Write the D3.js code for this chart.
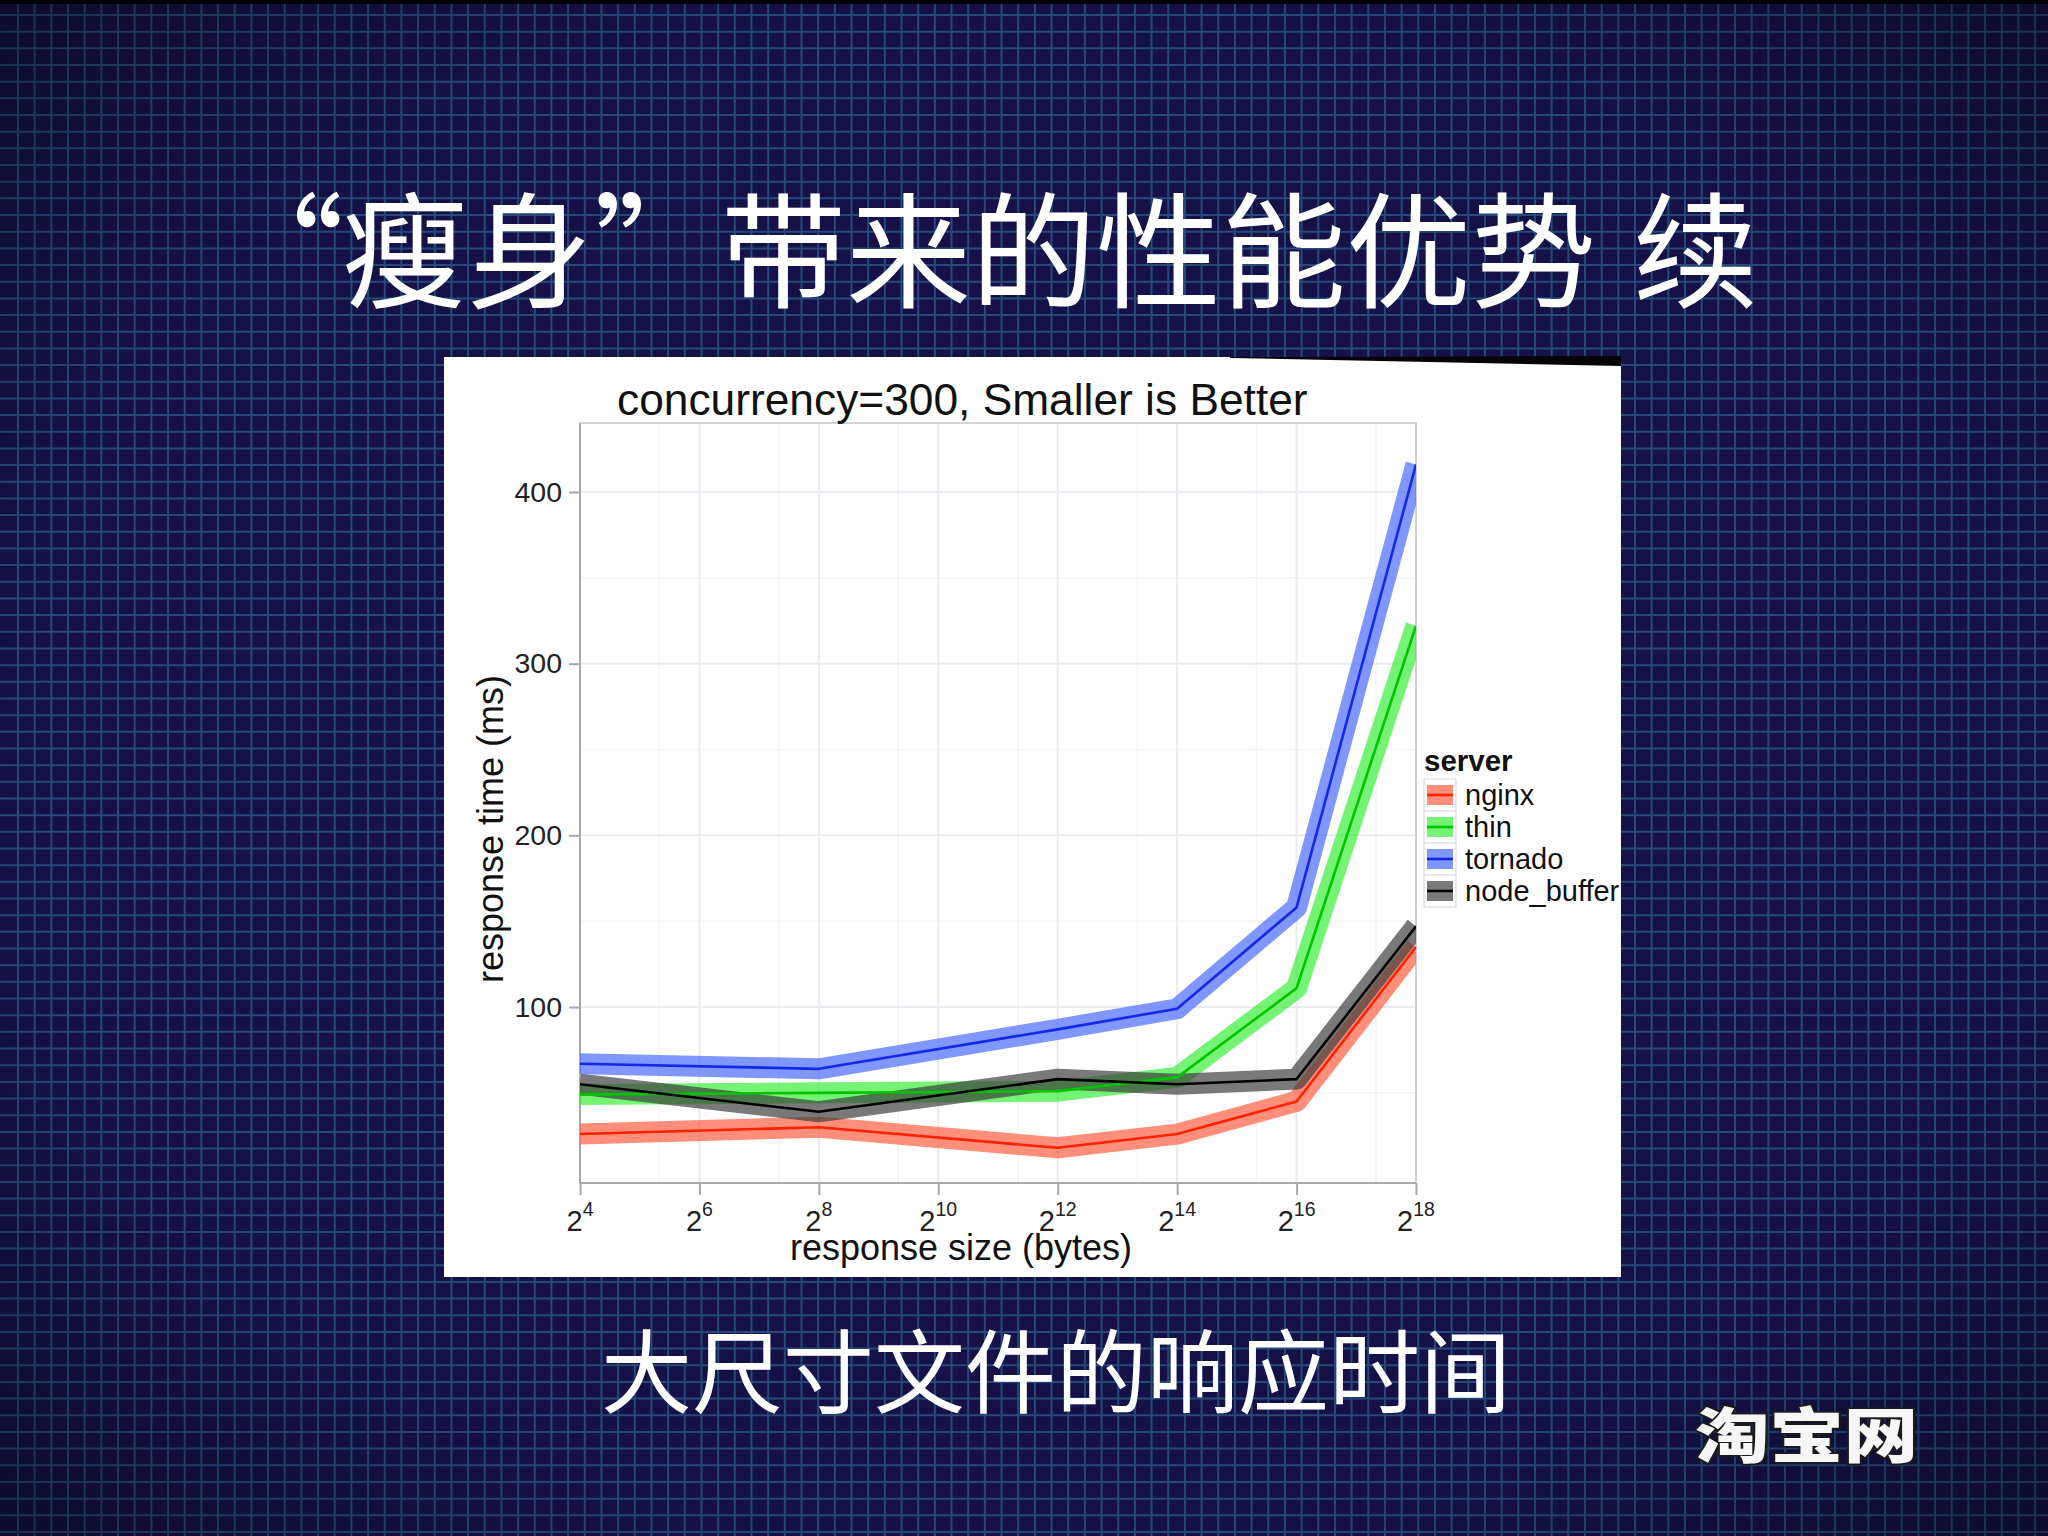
<!DOCTYPE html>
<html><head><meta charset="utf-8">
<script src="https://cdn.jsdelivr.net/npm/d3@7"></script>
<style>html,body{margin:0;padding:0;background:#16124b;overflow:hidden}</style>
</head><body>
<svg id="c" width="2048" height="1536"></svg>
<script>
// ---- data ----
const sizes = [16, 256, 4096, 16384, 65536, 262144];        // response size (bytes)
const servers = ["nginx", "thin", "tornado", "node_buffer"];
const nginx      = [26, 30, 18, 26, 45, 135];
const thin       = [49, 50, 51, 59, 111, 322];
const tornado    = [67, 64, 87, 99, 158, 416];
const nodeBuffer = [55, 39, 58, 55, 58, 147];
const xTickExps  = [4, 6, 8, 10, 12, 14, 16, 18];
const xMinorExps = [5.33, 7.33, 9.33, 11.33, 13.33, 15.33, 17.33];
const yTicks     = [100, 200, 300, 400];
const yMinor     = [50, 150, 250, 350];
const titleParts = ["“", "瘦身", "”", "带来的性能优势", "续"];
const subtitle   = "大尺寸文件的响应时间";
const logoText   = "淘宝网";
const chartTitle = "concurrency=300, Smaller is Better";
const xTitle     = "response size (bytes)";
const yTitle     = "response time (ms)";
const legendTitle = "server";

const seriesValues = [nginx, thin, tornado, nodeBuffer];
const bandColors = ["#ff5a3c", "#33ee33", "#4466ff", "#3a3a3a"];
const lineColors = ["#ff2200", "#00c400", "#1428e6", "#000000"];

const W = 2048, H = 1536;
const svg = d3.select("#c");
const defs = svg.append("defs");

// ---- slide background ----
svg.append("rect").attr("width", W).attr("height", H).attr("fill", "#17124c");
const bg = svg.append("g").attr("stroke", "#2b5a8c").attr("stroke-width", 2).attr("opacity", 0.85);
const step = 16.67;
bg.selectAll("line.v").data(d3.range(18, W, step)).join("line")
  .attr("x1", d => d).attr("x2", d => d).attr("y1", 0).attr("y2", H);
bg.selectAll("line.h").data(d3.range(15, H, step)).join("line")
  .attr("y1", d => d).attr("y2", d => d).attr("x1", 0).attr("x2", W);
const vg = defs.append("radialGradient").attr("id", "vig").attr("cx", "50%").attr("cy", "50%").attr("r", "75%");
vg.append("stop").attr("offset", "0%").attr("stop-color", "#000").attr("stop-opacity", 0);
vg.append("stop").attr("offset", "65%").attr("stop-color", "#000").attr("stop-opacity", 0.08);
vg.append("stop").attr("offset", "100%").attr("stop-color", "#000").attr("stop-opacity", 0.45);
svg.append("rect").attr("width", W).attr("height", H).attr("fill", "url(#vig)");
svg.append("rect").attr("width", W).attr("height", 4).attr("fill", "#000");

// ---- slide titles ----
const cjk = "'Noto Sans CJK SC', 'Noto Sans CJK JP', sans-serif";
const tg = svg.append("g").attr("fill", "#ffffff").attr("font-family", cjk).attr("font-size", 125);
tg.append("text").attr("x", 344).attr("y", 298).attr("text-anchor", "end").text(titleParts[0]);
tg.append("text").attr("x", 342).attr("y", 298).text(titleParts[1]);
tg.append("text").attr("x", 594).attr("y", 298).text(titleParts[2]);
tg.append("text").attr("x", 721).attr("y", 298).text(titleParts[3]);
tg.append("text").attr("x", 1633).attr("y", 298).text(titleParts[4]);

svg.append("text").attr("x", 601).attr("y", 1406).attr("fill", "#fff")
  .attr("font-family", cjk).attr("font-size", 91).text(subtitle);

svg.append("text").attr("transform", "translate(1695,1458) scale(1.24,1)").attr("fill", "#f6f6f6")
  .attr("stroke", "#1a1a1a").attr("stroke-width", 3.5).attr("paint-order", "stroke")
  .attr("font-family", cjk).attr("font-weight", 900).attr("font-size", 60).text(logoText);

// ---- chart card ----
const card = {x0: 444, y0: 357, x1: 1621, y1: 1277};
svg.append("rect").attr("x", card.x0).attr("y", card.y0)
  .attr("width", card.x1 - card.x0).attr("height", card.y1 - card.y0).attr("fill", "#ffffff");
svg.append("path").attr("d", `M1230,357 L1621,356 L1621,366 L1230,358 Z`).attr("fill", "#050505");

// ---- plot ----
const P = {l: 580, r: 1416, t: 423, b: 1183};
const x = d3.scaleLog().base(2).domain([16, 262144]).range([P.l, P.r]);
const y = d3.scaleLinear().domain([0, 400]).range([1178.7, 492]);
const font = "'Liberation Sans', Arial, Helvetica, sans-serif";

const grid = svg.append("g");
grid.selectAll("line.ym").data(yMinor).join("line")
  .attr("x1", P.l).attr("x2", P.r).attr("y1", d => y(d)).attr("y2", d => y(d))
  .attr("stroke", "#f5f4f8").attr("stroke-width", 1.5);
grid.selectAll("line.xm").data(xMinorExps).join("line")
  .attr("y1", P.t).attr("y2", P.b).attr("x1", d => x(Math.pow(2, d))).attr("x2", d => x(Math.pow(2, d)))
  .attr("stroke", "#f5f4f8").attr("stroke-width", 1.5);
grid.selectAll("line.y").data(yTicks).join("line")
  .attr("x1", P.l).attr("x2", P.r).attr("y1", d => y(d)).attr("y2", d => y(d))
  .attr("stroke", "#ebeaf0").attr("stroke-width", 2);
grid.selectAll("line.x").data(xTickExps).join("line")
  .attr("y1", P.t).attr("y2", P.b).attr("x1", d => x(Math.pow(2, d))).attr("x2", d => x(Math.pow(2, d)))
  .attr("stroke", "#ebeaf0").attr("stroke-width", 2);

// panel border
svg.append("rect").attr("x", P.l).attr("y", P.t).attr("width", P.r - P.l).attr("height", P.b - P.t)
  .attr("fill", "none").attr("stroke", "#c8c8cc").attr("stroke-width", 1.5);

// axes via d3
const yAxis = d3.axisLeft(y).tickValues(yTicks).tickSize(11).tickPadding(7).tickFormat(d3.format("d"));
const gy = svg.append("g").attr("transform", `translate(${P.l},0)`).call(yAxis);
gy.select(".domain").attr("d", `M0,${P.t}V${P.b}`).attr("stroke", "#a9a9ad").attr("stroke-width", 2);
gy.selectAll(".tick line").attr("stroke", "#a9a9ad").attr("stroke-width", 2);
gy.selectAll(".tick text").attr("font-family", font).attr("font-size", 28.5).attr("fill", "#222");

const xAxis = d3.axisBottom(x).tickValues(xTickExps.map(e => Math.pow(2, e))).tickSize(12).tickFormat("");
const gx = svg.append("g").attr("transform", `translate(0,${P.b})`).call(xAxis);
gx.select(".domain").attr("d", `M${P.l},0H${P.r}`).attr("stroke", "#a9a9ad").attr("stroke-width", 2);
gx.selectAll(".tick line").attr("stroke", "#a9a9ad").attr("stroke-width", 2);
const xl = svg.append("g").attr("font-family", font).attr("fill", "#222");
xTickExps.forEach(e => {
  const t = xl.append("text").attr("x", x(Math.pow(2, e))).attr("y", 1231).attr("text-anchor", "middle");
  t.append("tspan").attr("font-size", 29).text("2");
  t.append("tspan").attr("font-size", 19.5).attr("dy", -15).text(e);
});

// titles
svg.append("text").attr("x", 617).attr("y", 415).attr("font-family", font).attr("font-size", 44.3)
  .attr("fill", "#111").text(chartTitle);
svg.append("text").attr("x", 961).attr("y", 1260).attr("text-anchor", "middle").attr("font-family", font)
  .attr("font-size", 36).attr("fill", "#111").text(xTitle);
svg.append("text").attr("transform", "translate(503,829) rotate(-90)").attr("text-anchor", "middle")
  .attr("font-family", font).attr("font-size", 36).attr("fill", "#111").text(yTitle);

// lines
defs.append("clipPath").attr("id", "pc").append("rect")
  .attr("x", P.l).attr("y", P.t).attr("width", P.r - P.l).attr("height", P.b - P.t);
const line = d3.line().x((d, i) => x(sizes[i])).y(d => y(d));
const lg = svg.append("g").attr("clip-path", "url(#pc)").attr("fill", "none");
seriesValues.forEach((vals, k) => {
  lg.append("path").attr("d", line(vals)).attr("stroke", bandColors[k]).attr("stroke-width", 21)
    .attr("stroke-opacity", 0.68).attr("stroke-linejoin", "round").attr("stroke-linecap", "butt");
});
seriesValues.forEach((vals, k) => {
  lg.append("path").attr("d", line(vals)).attr("stroke", lineColors[k]).attr("stroke-width", 2.6)
    .attr("stroke-linejoin", "round");
});

// legend
const L = svg.append("g").attr("font-family", font);
L.append("text").attr("x", 1424).attr("y", 771).attr("font-weight", "bold").attr("font-size", 29.5)
  .attr("fill", "#111").text(legendTitle);
servers.forEach((s, k) => {
  const cy = 795 + k * 32;
  L.append("rect").attr("x", 1424).attr("y", cy - 16).attr("width", 32).attr("height", 32)
    .attr("fill", "#fff").attr("stroke", "#e2e2e6").attr("stroke-width", 1.5);
  L.append("rect").attr("x", 1427).attr("y", cy - 10).attr("width", 26).attr("height", 20)
    .attr("fill", bandColors[k]).attr("fill-opacity", 0.68);
  L.append("line").attr("x1", 1427).attr("x2", 1453).attr("y1", cy).attr("y2", cy)
    .attr("stroke", lineColors[k]).attr("stroke-width", 2.6);
  L.append("text").attr("x", 1465).attr("y", cy + 10).attr("font-size", 29).attr("fill", "#111").text(s);
});
</script>
</body></html>
